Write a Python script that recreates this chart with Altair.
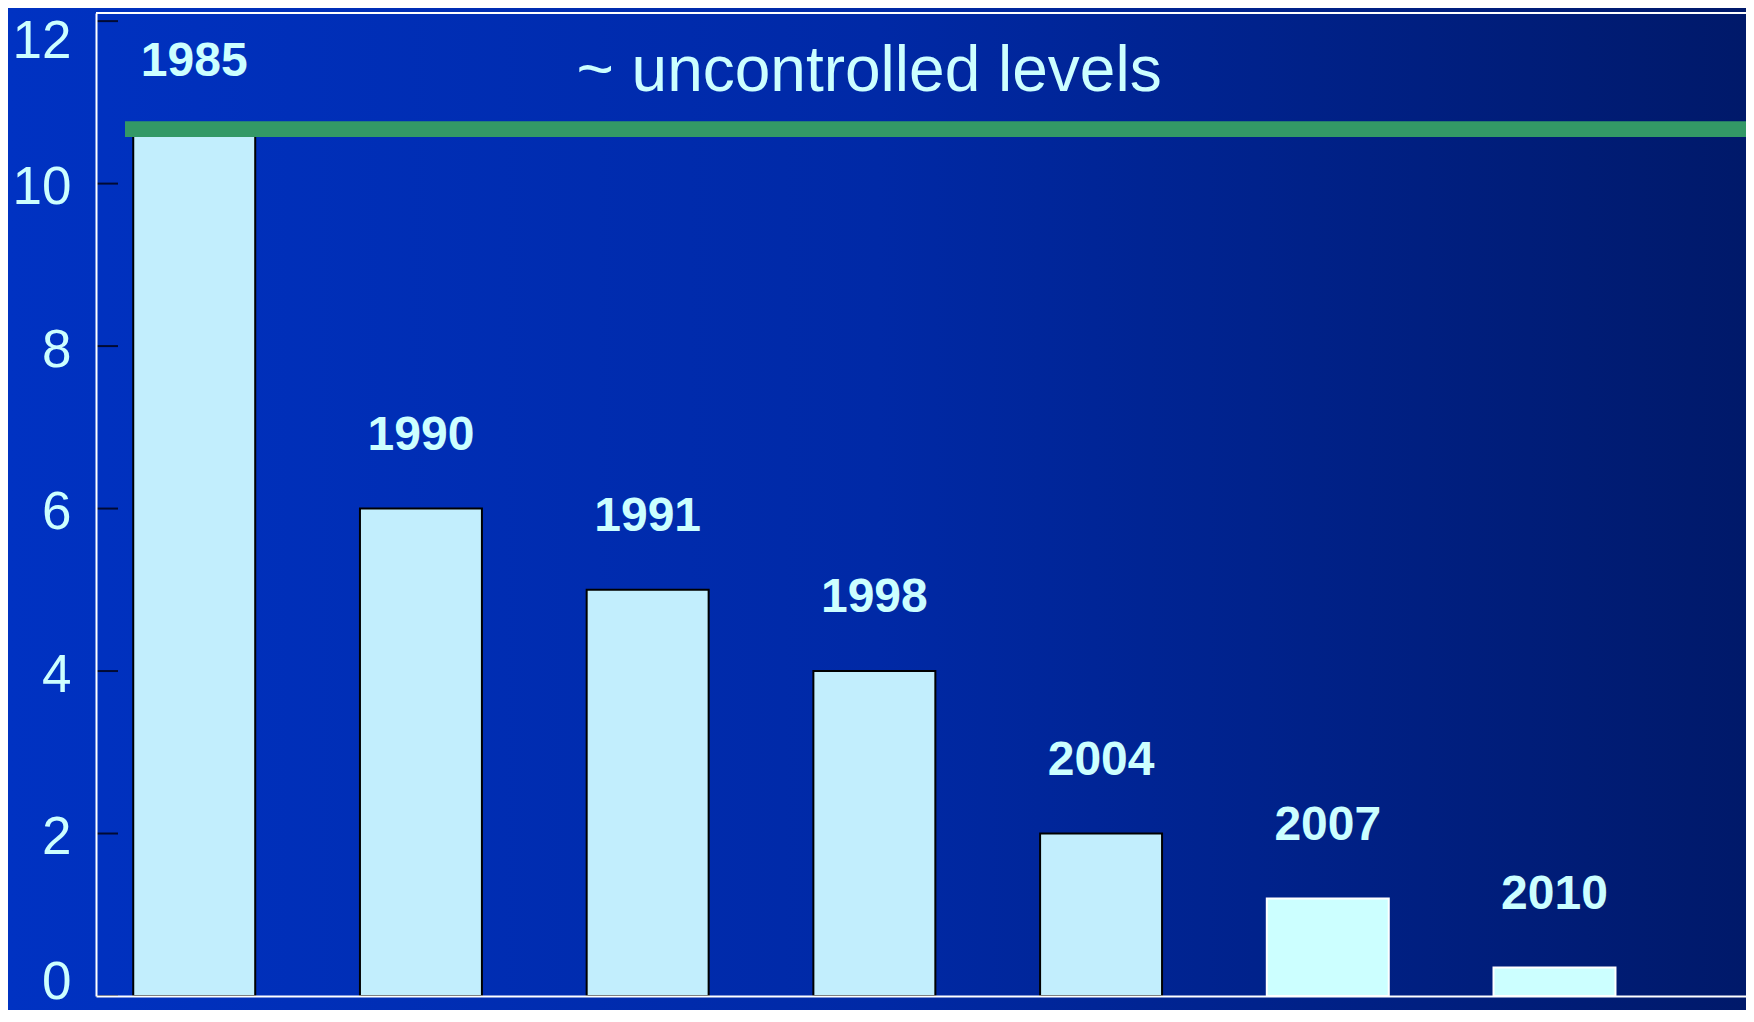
import altair as alt
import pandas as pd

# ---- data ----
years = ["1985", "1990", "1991", "1998", "2004", "2007", "2010"]
values = [10.6, 6.0, 5.0, 4.0, 2.0, 1.2, 0.35]
groups = ["past", "past", "past", "past", "past", "recent", "recent"]
uncontrolled_level = [10.67]
tick_values = [0, 2, 4, 6, 8, 10, 12]
annotation = ["~ uncontrolled levels"]

W, H = 1650, 983
FONT = "Liberation Sans"
TEXT_COLOR = "#ccffff"

bars_df = pd.DataFrame({"year": years, "value": values, "group": groups})
level_df = pd.DataFrame({"level": uncontrolled_level})
ticks_df = pd.DataFrame({"tick": tick_values})
note_df = pd.DataFrame({"label": annotation})

y_scale = alt.Scale(domain=[0, 12.1], nice=False, zero=True)
y_axis = alt.Axis(
    title=None, values=tick_values, ticks=False, grid=False,
    domain=True, domainColor="white", domainWidth=2,
    labelColor=TEXT_COLOR, labelFontSize=53, labelFont=FONT,
    labelPadding=25, labelBaseline="middle",
    labelOffset={
        "condition": [
            {"test": "datum.value === 12", "value": 20},
            {"test": "datum.value === 0", "value": -14},
        ],
        "value": 4,
    },
    zindex=1,
)
x_axis = alt.Axis(
    title=None, labels=False, ticks=False, grid=False,
    domain=True, domainColor="white", domainWidth=2, zindex=1,
)
x_scale = alt.Scale(paddingInner=0.462, paddingOuter=0.37, align=0.222)


def Y(field):
    return alt.Y(field, scale=y_scale, axis=y_axis)


def X(field):
    return alt.X(field, sort=years, scale=x_scale, axis=x_axis)


bg = alt.Chart(pd.DataFrame({"k": [0]})).mark_rect(
    color=alt.LinearGradient(
        gradient="linear",
        stops=[
            alt.GradientStop(color="#0032c2", offset=0),
            alt.GradientStop(color="#0029a6", offset=0.5),
            alt.GradientStop(color="#00196a", offset=1),
        ],
        x1=0, x2=1, y1=0, y2=0,
    )
).encode(
    x=alt.value(-88), x2=alt.value(W), y=alt.value(-5), y2=alt.value(H + 14)
)

ticks = alt.Chart(ticks_df).mark_rule(color="#000a33", strokeWidth=2).encode(
    y=Y("tick:Q"), x=alt.value(0), x2=alt.value(22)
)

bars = alt.Chart(bars_df).mark_bar(strokeWidth=2).encode(
    x=X("year:N"),
    y=Y("value:Q"),
    color=alt.Color("group:N", scale=alt.Scale(domain=["past", "recent"], range=["#c2eefd", "#ccffff"]), legend=None),
    stroke=alt.Stroke("group:N", scale=alt.Scale(domain=["past", "recent"], range=["#000000", "#ffffff"]), legend=None),
)

green = alt.Chart(level_df).mark_rule(color="#339966", strokeWidth=15.7).encode(
    y=Y("level:Q"), x=alt.value(29), x2=alt.value(W)
)

frame_top = alt.Chart(pd.DataFrame({"k": [0]})).mark_rule(color="white", strokeWidth=2).encode(
    x=alt.value(0), x2=alt.value(W), y=alt.value(0)
)

labels = alt.Chart(bars_df).mark_text(
    font=FONT, fontWeight="bold", fontSize=48, color=TEXT_COLOR,
    align="center", baseline="alphabetic", dy=-59,
).encode(x=X("year:N"), y=Y("value:Q"), text="year:N")

note = alt.Chart(note_df).mark_text(
    font=FONT, fontSize=64, color=TEXT_COLOR, align="center", baseline="alphabetic"
).encode(x=alt.value(773), y=alt.value(78), text="label:N")

chart = alt.layer(bg, ticks, bars, green, frame_top, labels, note).properties(
    width=W, height=H,
    autosize=alt.AutoSizeParams(type="none"),
    padding={"left": 88, "top": 5, "right": 0, "bottom": 14},
).configure(background="#0030c0").configure_view(strokeWidth=0)

chart.save("out.html", embed_options={"renderer": "svg", "actions": False})
